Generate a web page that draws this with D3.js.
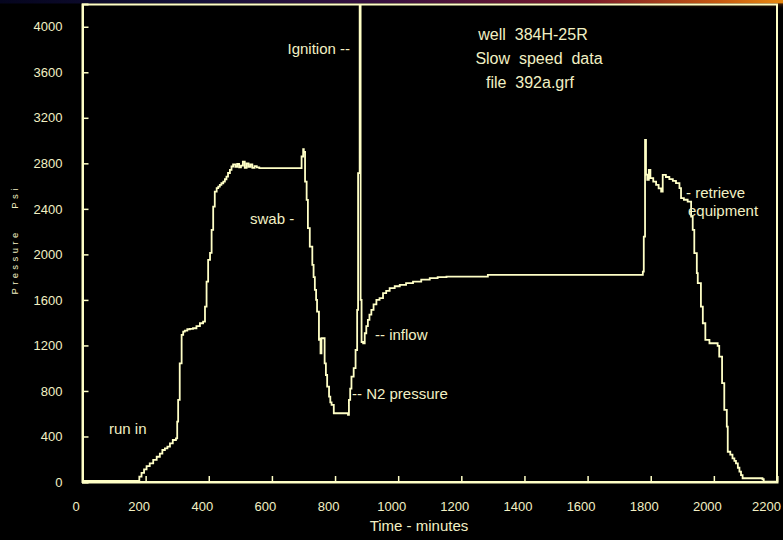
<!DOCTYPE html>
<html><head><meta charset="utf-8">
<script src="https://cdn.jsdelivr.net/npm/d3@7/dist/d3.min.js"></script>
<style>
html,body{margin:0;padding:0;background:#000;}
svg{display:block;}
text{font-family:"Liberation Sans",Arial,sans-serif;}
</style></head>
<body>
<script>
// Time (minutes)
const times = [0,180,187,195,203,213,224,235,245,253,261,269,277,286,296,300,303,308,314,319,324,332,340,350,361,372,382,388,393,398,401,404,409,414,419,425,430,435,440,446,451,456,461,467,472,477,484,490,496,502,508,514,520,526,532,538,545,552,560,570,583,694,699,701,705,710,714,720,724,728,732,736,740,743,749,752,754,757,762,767,771,775,781,785,789,796,838,841,844,848,852,859,865,870,873,875,878,881,884,889,894,899,904,909,915,922,931,941,952,962,973,989,1005,1025,1047,1073,1100,1125,1153,1284,1764,1770,1775,1778,1782,1785,1789,1794,1799,1808,1817,1825,1833,1838,1848,1859,1870,1880,1891,1896,1905,1917,1928,1933,1938,1946,1949,1959,1965,1973,1986,2012,2017,2026,2033,2041,2044,2052,2059,2065,2070,2076,2081,2086,2091,2154,2158,2200];
// Pressure (psi)
const pressure = [10,47,80,111,140,164,195,222,250,281,295,310,340,369,384,530,721,1043,1292,1321,1330,1342,1345,1351,1370,1395,1409,1541,1761,1952,1952,2013,2215,2420,2552,2582,2595,2611,2625,2640,2660,2684,2715,2743,2772,2790,2770,2795,2765,2780,2815,2760,2800,2770,2790,2760,2775,2765,2758,2758,2758,2860,2924,2900,2640,2479,2230,2069,2069,1908,1800,1688,1600,1497,1248,1260,1131,1263,1263,1043,940,838,750,700,677,604,604,590,721,820,926,1000,1160,1512,2714,2714,4210,1600,1230,1219,1307,1370,1424,1470,1512,1560,1600,1615,1659,1680,1703,1720,1732,1748,1761,1778,1791,1800,1805,1820,1820,1820,1849,2156,3007,2700,2655,2743,2670,2640,2611,2580,2552,2699,2680,2661,2645,2626,2582,2494,2480,2464,2332,2215,2011,1835,1747,1541,1395,1248,1219,1196,1102,868,633,486,266,240,208,185,164,125,91,60,33,24,3,3];

const xTicks = [0,200,400,600,800,1000,1200,1400,1600,1800,2000,2200];
const yTicks = [0,400,800,1200,1600,2000,2400,2800,3200,3600,4000];

const annotations = [
  {text:"Ignition --", x:350, y:54, anchor:"end"},
  {text:"swab -", x:250, y:224, anchor:"start"},
  {text:"run in", x:109, y:434, anchor:"start"},
  {text:"-- inflow", x:375, y:340, anchor:"start"},
  {text:"-- N2 pressure", x:352, y:399, anchor:"start"},
  {text:"- retrieve", x:686, y:198, anchor:"start"},
  {text:"equipment", x:688, y:216, anchor:"start"}
];
const titleLines = [
  {text:"well  384H-25R", x:533, y:40},
  {text:"Slow  speed  data", x:539, y:64},
  {text:"file  392a.grf", x:530, y:88}
];

const W = 783, H = 540;
const CREAM = "#FFFFC6", TXT = "#F2F0C4";
const svg = d3.select("body").append("svg").attr("width", W).attr("height", H);
svg.append("rect").attr("width", W).attr("height", H).attr("fill", "#000");

// top gradient band
const defs = svg.append("defs");
const g1 = defs.append("linearGradient").attr("id","band");
[["0%","#05051e"],["25%","#14103a"],["50%","#3a1040"],["75%","#7a1a2a"],["92%","#c85a10"],["100%","#e88a10"]]
  .forEach(s=>g1.append("stop").attr("offset",s[0]).attr("stop-color",s[1]));
svg.append("rect").attr("x",0).attr("y",0).attr("width",W).attr("height",3.5).attr("fill","url(#band)");
const g2 = defs.append("linearGradient").attr("id","fade").attr("x1","0").attr("x2","0").attr("y1","0").attr("y2","1");
g2.append("stop").attr("offset","0%").attr("stop-color","#a05010").attr("stop-opacity",0.8);
g2.append("stop").attr("offset","100%").attr("stop-color","#000").attr("stop-opacity",0);
svg.append("rect").attr("x",640).attr("y",3.5).attr("width",W-640).attr("height",6).attr("fill","url(#fade)").attr("opacity",0.6);

const x = d3.scaleLinear().domain([0,2200]).range([82.5,777]);
const y = d3.scaleLinear().domain([0,4200]).range([482,4]);

defs.append("clipPath").attr("id","clip").append("rect")
  .attr("x",82.5).attr("y",4).attr("width",777-82.5).attr("height",482-4);

// frame
svg.append("rect").attr("x",82.5).attr("y",4.5).attr("width",777-82.5).attr("height",482-4.5)
  .attr("fill","none").attr("stroke",CREAM).attr("stroke-width",2);

// axes
const xAxis = d3.axisBottom(x).tickValues(xTicks).tickSize(-6).tickPadding(20).tickFormat(d3.format("d"));
const gx = svg.append("g").attr("transform","translate(0,482)").call(xAxis);
gx.select(".domain").attr("stroke",CREAM).attr("stroke-width",2);
gx.selectAll(".tick line").attr("stroke",CREAM).attr("stroke-width",1.5);
gx.selectAll(".tick text").attr("fill",TXT).attr("font-size",13).attr("dx",d=>d===2200?-11:-7)
  .attr("font-family","'Liberation Sans',Arial,sans-serif");

const yAxis = d3.axisLeft(y).tickValues(yTicks).tickSize(-6).tickPadding(20).tickFormat(d3.format("d"));
const gy = svg.append("g").attr("transform","translate(82.5,0)").call(yAxis);
gy.select(".domain").attr("stroke",CREAM).attr("stroke-width",2);
gy.selectAll(".tick line").attr("stroke",CREAM).attr("stroke-width",1.5);
gy.selectAll(".tick text").attr("fill",TXT).attr("font-size",13)
  .attr("font-family","'Liberation Sans',Arial,sans-serif");

// line
const data = times.map((t,i)=>[t,pressure[i]]);
svg.append("path").datum(data).attr("clip-path","url(#clip)")
  .attr("d", d3.line().x(d=>x(d[0])).y(d=>y(d[1])).curve(d3.curveStepAfter))
  .attr("fill","none").attr("stroke",CREAM).attr("stroke-width",1.8).attr("stroke-linejoin","miter");

// axis titles
svg.append("text").attr("x",419).attr("y",531).attr("text-anchor","middle")
  .attr("fill",TXT).attr("font-size",15).text("Time - minutes");
svg.append("text").attr("transform","translate(18,262) rotate(-90)").attr("text-anchor","middle")
  .attr("fill",TXT).attr("font-size",9.5).attr("letter-spacing",3.4).text("Pressure");
svg.append("text").attr("transform","translate(18,197) rotate(-90)").attr("text-anchor","middle")
  .attr("fill",TXT).attr("font-size",9.5).attr("letter-spacing",3.4).text("Psi");

// annotations
annotations.forEach(a=>{
  svg.append("text").attr("x",a.x).attr("y",a.y).attr("text-anchor",a.anchor)
    .attr("fill",TXT).attr("font-size",15).text(a.text);
});
titleLines.forEach(a=>{
  svg.append("text").attr("x",a.x).attr("y",a.y).attr("text-anchor","middle")
    .attr("fill",TXT).attr("font-size",16).style("white-space","pre").text(a.text);
});
</script>
</body></html>
